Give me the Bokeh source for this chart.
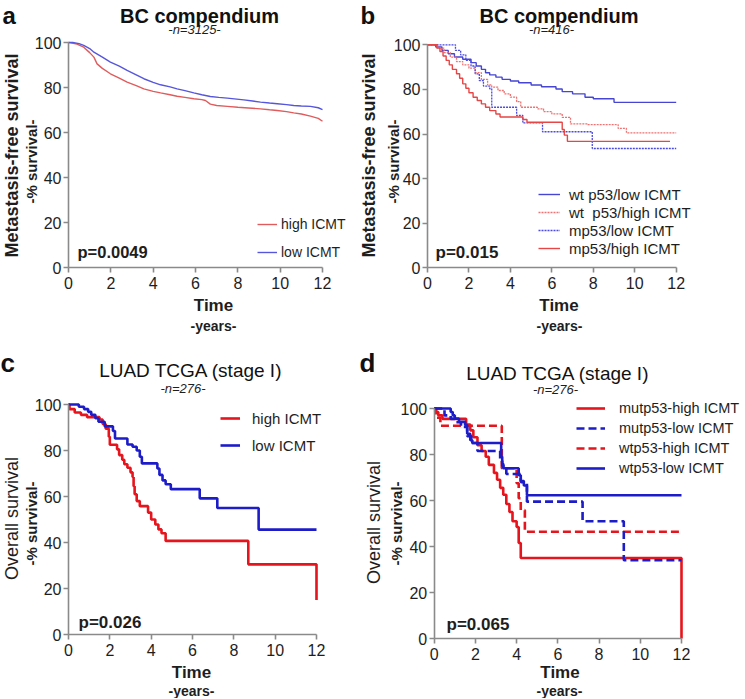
import numpy as np
from bokeh.plotting import figure
from bokeh.models import Range1d, FixedTicker, Label, Legend, LegendItem
from bokeh.layouts import row, column
from bokeh.embed import file_html
from bokeh.resources import INLINE

FONT = "Liberation Sans"

# ---------------- data ----------------
x_ticks = [0, 2, 4, 6, 8, 10, 12]
y_ticks = [0, 20, 40, 60, 80, 100]

# panel a (BC compendium, n=3125)
a_t_high = [0, 0.1, 0.4, 0.72, 1.0, 1.2, 1.35, 1.6, 1.98, 2.4, 2.77, 3.2, 3.56, 4.0, 4.35, 4.8,
            5.13, 5.5, 5.92, 6.3, 6.47, 6.7, 7.0, 7.5, 8.0, 8.5, 9.07, 9.5, 9.86, 10.3, 10.64,
            11.0, 11.43, 11.8, 12.0]
a_v_high = [100, 99.9, 99.3, 97.9, 95.5, 93.5, 90.5, 88.5, 86.1, 84.2, 82.4, 80.8, 79.4, 78.3,
            77.6, 76.8, 76.1, 75.6, 75.0, 74.6, 74.2, 72.6, 72.0, 71.6, 71.2, 70.9, 70.5, 70.1,
            69.8, 69.3, 68.7, 68.2, 67.3, 66.3, 65.0]
a_t_low = [0, 0.2, 0.5, 0.72, 1.0, 1.2, 1.6, 1.98, 2.4, 2.77, 3.2, 3.56, 4.0, 4.35, 4.8, 5.13,
           5.5, 5.92, 6.3, 6.7, 7.1, 7.5, 8.28, 8.7, 9.07, 9.5, 9.86, 10.3, 10.64, 11.0, 11.43,
           11.8, 12.0]
a_v_low = [100, 100, 99.5, 98.7, 97.3, 95.7, 93.5, 91.3, 89.5, 87.6, 85.6, 83.9, 82.3, 81.2,
           80.3, 79.4, 78.6, 77.6, 76.8, 76.0, 75.6, 75.3, 74.5, 74.0, 73.5, 73.1, 72.8, 72.4,
           72.0, 71.8, 71.6, 71.0, 70.2]

# panel b (BC compendium, n=416)
b_t_wt_low = [0, 0.4, 0.7, 1.0, 1.3, 1.7, 2.1, 2.35, 2.6, 2.8, 3.0, 3.3, 3.6, 4.0, 4.4, 5.0,
              5.5, 6.2, 6.5, 7.0, 7.6, 8.0, 9.0, 12.0]
b_v_wt_low = [100, 99, 97.5, 96, 94.5, 93.5, 92, 90.5, 89, 87.5, 86.5, 85.5, 84.5, 83.8, 83,
              82, 81.2, 80.2, 79, 78, 76.5, 75.8, 74.2, 74.2]
b_t_wt_high = [0, 0.5, 0.8, 1.1, 1.4, 1.7, 2.0, 2.3, 2.6, 2.9, 3.1, 3.4, 3.7, 4.0, 4.3, 4.5,
               5.3, 5.6, 6.0, 6.5, 6.9, 7.7, 9.2, 9.6, 12.0]
b_v_wt_high = [100, 98.5, 96.5, 94.5, 92.5, 91, 89.5, 87.5, 84.5, 82, 81, 79.5, 78, 76.5, 74.5,
               72, 71.3, 70, 69, 67.5, 64.5, 64.2, 62.5, 60.5, 60.5]
b_t_mp_low = [0, 1.35, 1.6, 1.85, 2.1, 2.3, 2.5, 2.7, 3.0, 3.1, 4.3, 4.6, 5.55, 7.95, 12.0]
b_v_mp_low = [100, 97.5, 95.5, 93, 90.5, 87, 84, 81.5, 80.3, 72, 68.3, 65, 61, 53.5, 53.5]
b_t_mp_high = [0, 0.45, 0.6, 0.75, 0.9, 1.05, 1.2, 1.4, 1.55, 1.7, 1.85, 2.0, 2.2, 2.4, 2.6,
               2.8, 3.0, 3.3, 3.5, 4.6, 4.8, 6.5, 6.6, 6.75, 11.7]
b_v_mp_high = [100, 98.5, 97, 95, 93, 91, 89, 87, 85, 82.5, 80.5, 78.5, 76.5, 75, 73.5, 72,
               70.5, 69, 67.6, 66.5, 65.3, 62, 59.5, 56.7, 56.7]

# panel c (LUAD TCGA stage I)
c_t_high = [0, 0.05, 0.3, 0.6, 0.9, 1.5, 1.65, 1.8, 1.95, 2.0, 2.35, 2.45, 2.6, 2.7, 2.85,
            3.0, 3.1, 3.15, 3.2, 3.3, 3.45, 3.85, 4.0, 4.2, 4.35, 4.5, 4.7, 8.7, 12.0, 12.0]
c_v_high = [100, 98, 96.5, 95.5, 94.5, 93.5, 91.5, 89.5, 86, 82.5, 80.5, 78, 76, 74, 72.5,
            70.5, 68.5, 64.5, 61, 58, 55.8, 53, 50, 47.8, 45.7, 44, 40.7, 30.5, 30.5, 15]
c_t_low = [0, 0.5, 0.75, 0.95, 1.1, 1.3, 1.45, 1.75, 2.15, 2.25, 2.85, 3.1, 3.3, 3.45, 3.55,
           4.3, 4.4, 4.55, 4.7, 4.95, 6.35, 7.2, 9.2, 12.0]
c_v_low = [100, 99, 98, 96.8, 95.5, 94, 92.5, 90.5, 88.5, 85.2, 82.6, 81.6, 80, 77.3, 74.4,
           72.2, 69.4, 67, 65.3, 63.2, 59.2, 55, 45.6, 45.6]

# panel d (LUAD TCGA stage I, by p53)
d_t_mut_high = [0, 0.05, 0.2, 0.4, 1.55, 1.75, 1.9, 2.1, 2.3, 2.5, 2.65, 2.9, 3.05, 3.2, 3.35,
                3.5, 3.65, 3.8, 4.0, 4.1, 4.2, 12.0, 12.0]
d_v_mut_high = [100, 98.5, 97, 95.5, 93, 90.5, 87.5, 84, 81.5, 79, 75.5, 72, 69, 65.5, 62.5,
                58.5, 55, 51, 48.5, 41.5, 35, 35, 0]
d_t_mut_low = [0, 0.5, 0.8, 1.0, 1.3, 1.6, 1.8, 2.1, 3.2, 3.3, 3.5, 4.2, 4.5, 7.2, 9.2, 12.0]
d_v_mut_low = [100, 97, 95.5, 94, 92, 88, 85, 81.5, 78, 75, 71.5, 68, 59.5, 51, 34, 34]
d_t_wt_high = [0, 0.1, 0.3, 3.28, 4.0, 4.1, 4.2, 4.4, 12.0]
d_v_wt_high = [100, 96, 92.5, 74, 67.5, 61, 55.8, 46.4, 46.4]
d_t_wt_low = [0, 0.8, 0.9, 1.0, 1.2, 1.5, 1.6, 1.75, 1.85, 3.25, 3.3, 3.35, 4.1, 4.2, 4.35,
              4.5, 12.0]
d_v_wt_low = [100, 98.5, 97, 95.6, 94.2, 92.8, 89, 86.2, 85, 79, 76, 74, 71, 68.5, 66.5, 62.3,
              62.3]

AXIS_COL = "#8a8a8a"
TXT = "#1e1e1e"


def make_panel(fig_x, fig_y, fig_w, fig_h, px0, px12, py0, py100):
    """Figure whose frame fills the whole canvas; axes pinned at x=0 / y=0."""
    ppx = (px12 - px0) / 12.0
    ppy = (py0 - py100) / 100.0
    xr = Range1d((fig_x - px0) / ppx, (fig_x + fig_w - px0) / ppx)
    yr = Range1d((py0 - (fig_y + fig_h)) / ppy, (py0 - fig_y) / ppy)
    p = figure(width=fig_w, height=fig_h, x_range=xr, y_range=yr,
               output_backend="svg", toolbar_location=None, min_border=0)
    p.title.visible = False
    p.xgrid.visible = False
    p.ygrid.visible = False
    p.outline_line_color = None
    p.background_fill_color = "white"
    p.border_fill_color = "white"
    p.xaxis.ticker = FixedTicker(ticks=x_ticks)
    p.yaxis.ticker = FixedTicker(ticks=y_ticks)
    p.xaxis.fixed_location = 0
    p.yaxis.fixed_location = 0
    p.xaxis.bounds = (0, 12)
    p.yaxis.bounds = (0, 100)
    for ax in (p.xaxis[0], p.yaxis[0]):
        ax.axis_line_color = AXIS_COL
        ax.axis_line_width = 1.6
        ax.major_tick_line_color = AXIS_COL
        ax.major_tick_line_width = 1.6
        ax.major_tick_out = 5
        ax.major_tick_in = 0
        ax.minor_tick_line_color = None
        ax.major_label_text_font = FONT
        ax.major_label_text_font_size = "16px"
        ax.major_label_text_color = TXT
    p.yaxis[0].major_label_standoff = 2
    p.xaxis[0].major_label_standoff = 4
    origin = (fig_x, fig_y + fig_h)
    return p, origin


def put(p, origin, page_x, page_y, text, size, style="normal", align="center",
        angle=0.0, color=TXT):
    fx, fy = origin
    p.add_layout(Label(x=page_x - fx, y=fy - page_y, x_units="screen", y_units="screen",
                       text=text, text_font=FONT, text_font_size=f"{size}px",
                       text_font_style=style, text_align=align, text_baseline="middle",
                       angle=angle, text_color=color))


def add_legend(p, origin, items, glyph_x, bottom_y, glyph_w, row_h, spacing, standoff, size):
    fx, fy = origin
    lg = Legend(items=[LegendItem(label=l, renderers=[r]) for l, r in items],
                location=(int(round(glyph_x - fx)), int(round(fy - bottom_y))),
                glyph_width=glyph_w, glyph_height=row_h, label_height=row_h,
                spacing=spacing, label_standoff=standoff, padding=0, margin=0,
                border_line_alpha=0, background_fill_alpha=0,
                label_text_font=FONT, label_text_font_size=f"{size}px",
                label_text_color=TXT)
    p.add_layout(lg)


VERT = np.pi / 2
DARK = "#111111"

# ---------------- panel a ----------------
pa, oa = make_panel(0, 0, 358, 348, 68, 322, 267, 42)
ra1 = pa.line(a_t_high, a_v_high, line_color="#e05c5c", line_width=1.4)
ra2 = pa.line(a_t_low, a_v_low, line_color="#5656dc", line_width=1.4)
add_legend(pa, oa, [("high ICMT", ra1), ("low ICMT", ra2)], 257, 262, 20, 20, 8, 4, 14)
put(pa, oa, 77, 251, "p=0.0049", 16.5, "bold", "left")
put(pa, oa, 2, 15, "a", 24, "bold", "left", color=DARK)
put(pa, oa, 199, 15, "BC compendium", 20, "bold", color=DARK)
put(pa, oa, 194, 29, "-n=3125-", 13, "italic")
put(pa, oa, 11, 155, "Metastasis-free survival", 18, "bold", angle=VERT)
put(pa, oa, 31, 161, "-% survival-", 15, "bold", angle=VERT)
put(pa, oa, 213, 305, "Time", 17, "bold")
put(pa, oa, 213, 325, "-years-", 14, "bold")

# ---------------- panel b ----------------
pb, ob = make_panel(358, 0, 386, 348, 427, 675.7, 267.3, 44.3)
rb1 = pb.step(b_t_wt_low, b_v_wt_low, mode="after", line_color="#4646d2", line_width=1.4)
rb2 = pb.step(b_t_wt_high, b_v_wt_high, mode="after", line_color="#ef7272", line_width=1.3,
              line_dash="2 1")
rb3 = pb.step(b_t_mp_low, b_v_mp_low, mode="after", line_color="#4a4ae4", line_width=1.3,
              line_dash="2 1")
rb4 = pb.step(b_t_mp_high, b_v_mp_high, mode="after", line_color="#e64646", line_width=1.4)
add_legend(pb, ob, [("wt p53/low ICMT", rb1), ("wt  p53/high ICMT", rb2),
                    ("mp53/low ICMT", rb3), ("mp53/high ICMT", rb4)],
           538, 257, 22, 18, 0, 9, 15)
put(pb, ob, 435, 252, "p=0.015", 17, "bold", "left")
put(pb, ob, 360, 15, "b", 24, "bold", "left", color=DARK)
put(pb, ob, 558.5, 15, "BC compendium", 20, "bold", color=DARK)
put(pb, ob, 551, 29, "-n=416-", 13, "italic")
put(pb, ob, 368.5, 155, "Metastasis-free survival", 18, "bold", angle=VERT)
put(pb, ob, 392.5, 161, "-% survival-", 15, "bold", angle=VERT)
put(pb, ob, 558.5, 305, "Time", 17, "bold")
put(pb, ob, 559, 325, "-years-", 14, "bold")

# ---------------- panel c ----------------
pc, oc = make_panel(0, 348, 358, 350, 68, 316, 634, 404)
rc1 = pc.step(c_t_high, c_v_high, mode="after", line_color="#e6141c", line_width=2.6)
rc2 = pc.step(c_t_low, c_v_low, mode="after", line_color="#1c1cc8", line_width=2.6)
add_legend(pc, oc, [("high ICMT", rc1), ("low ICMT", rc2)], 220, 455, 20, 20, 7, 12, 15)
put(pc, oc, 78, 622, "p=0.026", 17, "bold", "left")
put(pc, oc, 0, 362, "c", 26, "bold", "left", color=DARK)
put(pc, oc, 190.5, 370, "LUAD TCGA (stage I)", 19, "normal", color=DARK)
put(pc, oc, 182.5, 388, "-n=276-", 13, "italic")
put(pc, oc, 11, 518, "Overall survival", 18, "normal", angle=VERT)
put(pc, oc, 31, 523, "-% survival-", 15, "bold", angle=VERT)
put(pc, oc, 191, 672, "Time", 17, "bold")
put(pc, oc, 191, 690, "-years-", 14, "bold")

# ---------------- panel d ----------------
pd_, od = make_panel(358, 348, 386, 350, 433.7, 681, 638, 408)
rd1 = pd_.step(d_t_mut_high, d_v_mut_high, mode="after", line_color="#e6141c", line_width=2.6)
rd3 = pd_.step(d_t_wt_high, d_v_wt_high, mode="after", line_color="#e6141c", line_width=2.6,
               line_dash="8 4")
rd4 = pd_.step(d_t_wt_low, d_v_wt_low, mode="after", line_color="#1c1cc8", line_width=2.6)
rd2 = pd_.step(d_t_mut_low, d_v_mut_low, mode="after", line_color="#1c1cc8", line_width=2.6,
               line_dash="8 4")
add_legend(pd_, od, [("mutp53-high ICMT", rd1), ("mutp53-low ICMT", rd2),
                     ("wtp53-high ICMT", rd3), ("wtp53-low ICMT", rd4)],
           576, 478, 29, 20, 0, 14, 14.5)
put(pd_, od, 446, 624, "p=0.065", 17, "bold", "left")
put(pd_, od, 359, 362, "d", 26, "bold", "left", color=DARK)
put(pd_, od, 557.5, 373, "LUAD TCGA (stage I)", 19, "normal", color=DARK)
put(pd_, od, 555, 389, "-n=276-", 13, "italic")
put(pd_, od, 373, 522, "Overall survival", 18, "normal", angle=VERT)
put(pd_, od, 396, 523, "-% survival-", 15, "bold", angle=VERT)
put(pd_, od, 559.5, 672, "Time", 17, "bold")
put(pd_, od, 559, 690, "-years-", 14, "bold")

layout = column(row(pa, pb, spacing=0), row(pc, pd_, spacing=0), spacing=0)

open("out.html", "w").write(file_html(layout, INLINE))
